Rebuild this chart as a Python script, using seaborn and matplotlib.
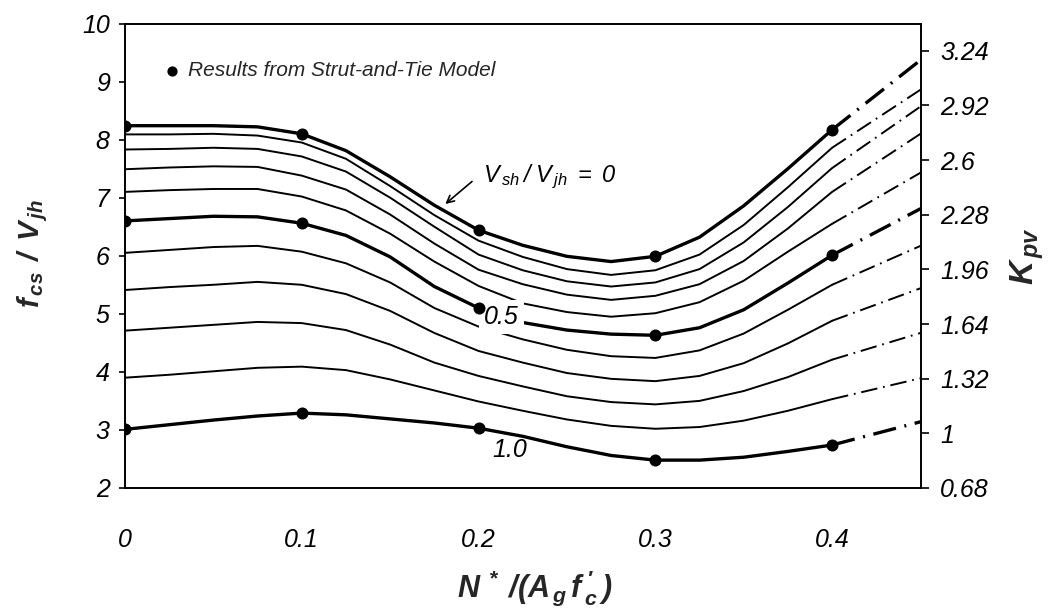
import matplotlib
matplotlib.use("Agg")
import matplotlib.pyplot as plt
from matplotlib.font_manager import FontProperties
import seaborn as sns

# ---------------- data ----------------
x_solid = [0, 0.025, 0.05, 0.075, 0.1, 0.125, 0.15, 0.175, 0.2,
           0.225, 0.25, 0.275, 0.3, 0.325, 0.35, 0.375, 0.4]
x_ext = [0.4, 0.45]

ratio_labels = ["0", "0.1", "0.2", "0.3", "0.4", "0.5", "0.6", "0.7", "0.8", "0.9", "1.0"]

v00 = [8.24, 8.24, 8.24, 8.22, 8.10, 7.81, 7.36, 6.87, 6.44, 6.18, 5.99, 5.90, 5.99, 6.32, 6.86, 7.50, 8.17]
v01 = [8.09, 8.09, 8.10, 8.07, 7.95, 7.67, 7.20, 6.70, 6.26, 5.98, 5.77, 5.67, 5.75, 6.02, 6.53, 7.18, 7.86]
v02 = [7.83, 7.84, 7.86, 7.84, 7.71, 7.45, 7.00, 6.50, 6.02, 5.75, 5.56, 5.47, 5.54, 5.77, 6.23, 6.84, 7.51]
v03 = [7.49, 7.52, 7.54, 7.53, 7.38, 7.14, 6.71, 6.21, 5.76, 5.51, 5.33, 5.24, 5.31, 5.51, 5.91, 6.47, 7.10]
v04 = [7.10, 7.13, 7.15, 7.15, 7.02, 6.78, 6.38, 5.90, 5.48, 5.18, 5.03, 4.95, 5.01, 5.20, 5.57, 6.07, 6.55]
v05 = [6.60, 6.64, 6.68, 6.67, 6.56, 6.35, 5.98, 5.47, 5.10, 4.85, 4.72, 4.65, 4.63, 4.76, 5.07, 5.53, 6.01]
v06 = [6.05, 6.10, 6.15, 6.17, 6.07, 5.87, 5.54, 5.10, 4.78, 4.56, 4.38, 4.27, 4.24, 4.37, 4.66, 5.07, 5.50]
v07 = [5.41, 5.46, 5.50, 5.55, 5.50, 5.34, 5.05, 4.67, 4.36, 4.16, 3.98, 3.88, 3.84, 3.93, 4.15, 4.49, 4.88]
v08 = [4.71, 4.76, 4.81, 4.86, 4.84, 4.72, 4.47, 4.16, 3.93, 3.75, 3.58, 3.48, 3.44, 3.50, 3.67, 3.91, 4.21]
v09 = [3.90, 3.95, 4.01, 4.07, 4.09, 4.03, 3.87, 3.68, 3.49, 3.33, 3.18, 3.07, 3.02, 3.05, 3.16, 3.33, 3.53]
v10 = [3.01, 3.09, 3.17, 3.24, 3.29, 3.26, 3.19, 3.12, 3.03, 2.89, 2.71, 2.56, 2.48, 2.48, 2.53, 2.63, 2.74]

# dash-dot extension end values at the right edge
ext_end = [9.37, 8.86, 8.57, 8.10, 7.43, 6.81, 6.17, 5.44, 4.67, 3.89, 3.14]

# strut-and-tie model results
pts_x = [0, 0.1, 0.2, 0.3, 0.4]
pts_r00 = [8.24, 8.10, 6.44, 5.99, 8.17]
pts_r05 = [6.60, 6.56, 5.10, 4.63, 6.01]
pts_r10 = [3.01, 3.29, 3.03, 2.48, 2.74]

x_ticks = [0, 0.1, 0.2, 0.3, 0.4]
x_tick_labels = ["0", "0.1", "0.2", "0.3", "0.4"]
y_ticks = [2, 3, 4, 5, 6, 7, 8, 9, 10]
y_tick_labels = ["2", "3", "4", "5", "6", "7", "8", "9", "10"]
k_ticks = [0.68, 1.0, 1.32, 1.64, 1.96, 2.28, 2.6, 2.92, 3.24]
k_tick_labels = ["0.68", "1", "1.32", "1.64", "1.96", "2.28", "2.6", "2.92", "3.24"]

curves = [v00, v01, v02, v03, v04, v05, v06, v07, v08, v09, v10]
thick = {0, 5, 10}

# ---------------- style ----------------
sns.set_theme(style="white")
plt.rcParams["font.family"] = ["Liberation Sans", "DejaVu Sans"]
plt.rcParams["mathtext.fontset"] = "custom"
plt.rcParams["mathtext.rm"] = "Liberation Sans:bold:italic"
plt.rcParams["mathtext.it"] = "Liberation Sans:bold:italic"
plt.rcParams["mathtext.bf"] = "Liberation Sans:bold:italic"
plt.rcParams["mathtext.sf"] = "Liberation Sans:italic"
plt.rcParams["lines.solid_capstyle"] = "round"

fig = plt.figure(figsize=(10.52, 6.09), dpi=100)
ax = fig.add_axes([0.1188, 0.1987, 0.7562, 0.7627])

for i, vals in enumerate(curves):
    lw = 2.4 if i in thick else 1.4
    sns.lineplot(x=x_solid, y=vals, ax=ax, color="black", linewidth=lw,
                 estimator=None, sort=False, legend=False)
    sns.lineplot(x=x_ext, y=[vals[-1], ext_end[i]], ax=ax, color="black",
                 linewidth=lw, estimator=None, sort=False, legend=False)
    if i in thick:
        ax.lines[-1].set_linestyle((0, (7.0, 2.6, 0.6, 2.6)))
    else:
        ax.lines[-1].set_linestyle((0, (8.5, 3.0, 0.9, 3.0)))

sns.scatterplot(x=pts_x * 3, y=pts_r00 + pts_r05 + pts_r10, ax=ax, color="black",
                s=75, linewidth=0, zorder=5, label="Results from Strut-and-Tie Model")

ax.legend(loc="center left", bbox_to_anchor=(0.0455, 0.898), frameon=False,
          borderpad=0, borderaxespad=0, handlelength=1.0, handletextpad=0.3,
          markerscale=0.85,
          prop=FontProperties(family="Liberation Sans", style="italic", size=15))

ax.set_xlim(0, 0.45)
ax.set_ylim(2, 10)
ax.set_xticks(x_ticks, labels=x_tick_labels)
ax.set_yticks(y_ticks, labels=y_tick_labels)
ax.tick_params(axis="x", direction="in", length=7, width=1.2, pad=29,
               labelsize=18, colors="black")
ax.tick_params(axis="y", direction="out", length=4, width=1.2, pad=7,
               labelsize=18, colors="black")
for lab in ax.get_xticklabels() + ax.get_yticklabels():
    lab.set_fontstyle("italic")

ax2 = ax.twinx()
ax2.set_ylim(0.68, 3.40)
ax2.set_yticks(k_ticks, labels=k_tick_labels)
ax2.tick_params(axis="y", direction="out", length=6, width=1.2, pad=8,
                labelsize=18, colors="black")
for lab in ax2.get_yticklabels():
    lab.set_fontstyle("italic")

for a in (ax, ax2):
    for sp in a.spines.values():
        sp.set_color("black")
        sp.set_linewidth(1.2)
    a.grid(False)

# annotations
ax.annotate("", xy=(0.180, 6.86), xytext=(0.1975, 7.31),
            arrowprops=dict(arrowstyle="->", color="black", lw=1.2, mutation_scale=13))
ax.text(0.2025, 7.36, r"$\mathsf{V_{\,sh}\,/\;V_{\,jh}\;=\;0}$", fontsize=17,
        ha="left", va="center", color="black")
ax.text(0.2128, 4.95, "0.5", fontsize=18, fontstyle="italic", ha="center", va="center",
        color="black", zorder=4,
        bbox=dict(boxstyle="square,pad=0.2", facecolor="white", edgecolor="none"))
ax.text(0.2179, 2.655, "1.0", fontsize=18, fontstyle="italic", ha="center", va="center",
        color="black")

# axis titles
fig.text(535 / 1052, 1 - 597 / 609, r"$N^{\,*}\;/(A_{\,g}\,f_{\,c}^{\,\prime}\,)$",
         ha="center", va="baseline", fontsize=22)
fig.text(33 / 1052, 1 - 253 / 609, r"$f_{\,cs}\,\;/\;\,V_{\,jh}$", rotation=90,
         ha="center", va="center", fontsize=21)
fig.text(1027 / 1052, 1 - 256 / 609, r"$K_{\,pv}$", rotation=90,
         ha="center", va="center", fontsize=24)

fig.savefig("out.png", dpi=100)
